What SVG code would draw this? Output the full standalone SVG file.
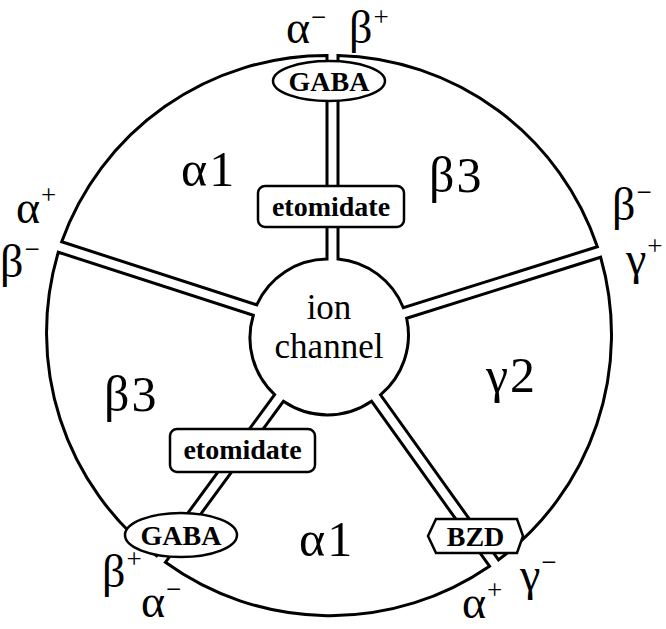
<svg xmlns="http://www.w3.org/2000/svg" width="666" height="629" viewBox="0 0 666 629">
<style>
.sec{fill:#fff;stroke:#000;stroke-width:3;stroke-linejoin:miter}
.big{font-family:"Liberation Serif","Times New Roman",serif;font-size:46px;fill:#000;letter-spacing:1px}
.sub{font-size:50px;letter-spacing:2px}
.sup{font-size:27px}
.ion{font-family:"Liberation Serif","Times New Roman",serif;font-size:35px;fill:#000;text-anchor:middle}
.box{fill:#fff;stroke:#000;stroke-width:2.5}
.lbl{font-family:"Liberation Serif","Times New Roman",serif;font-weight:bold;font-size:28px;fill:#000;text-anchor:middle}
</style>
<rect width="666" height="629" fill="#fff"/>
<g id="sectors">
<g id="sector-beta3-top"><path class="sec" d="M338,259 L338,55.5 A281,281 0 0 1 597.35,246.75 L403.35,307.75 A78,78 0 0 0 338,259 Z"/></g>
<g id="sector-gamma2"><path class="sec" d="M406.65,318.25 L600.65,257.25 A281,281 0 0 1 498.5,559.8 L380.5,394.8 A78,78 0 0 0 406.65,318.25 Z"/></g>
<g id="sector-alpha1-bottom"><path class="sec" d="M371.5,401.2 L489.5,566.2 A281,281 0 0 1 165.4,562.3 L283.4,401.3 A78,78 0 0 0 371.5,401.2 Z"/></g>
<g id="sector-beta3-left"><path class="sec" d="M274.6,394.7 L156.6,555.7 A281,281 0 0 1 58.3,252.2 L253.3,315.2 A78,78 0 0 0 274.6,394.7 Z"/></g>
<g id="sector-alpha1-top"><path class="sec" d="M256.7,304.8 L61.7,241.8 A281,281 0 0 1 327,55.5 L327,259 A78,78 0 0 0 256.7,304.8 Z"/></g>
</g>
<g id="ion-channel">
<text class="ion" x="329" y="319">ion</text>
<text class="ion" x="329" y="358">channel</text>
</g>
<g id="subunit-labels">
<text class="big sub" x="181" y="186">α1</text>
<text class="big sub" x="429" y="192">β3</text>
<text class="big sub" x="104" y="411">β3</text>
<text class="big sub" x="486" y="392">γ2</text>
<text class="big sub" x="299" y="556">α1</text>
</g>
<g id="interface-labels">
<text class="big" x="286" y="43">α<tspan class="sup" dy="-17">−</tspan></text>
<text class="big" x="349" y="43">β<tspan class="sup" dy="-17">+</tspan></text>
<text class="big" x="16" y="223">α<tspan class="sup" dy="-19">+</tspan></text>
<text class="big" x="0" y="277">β<tspan class="sup" dy="-19">−</tspan></text>
<text class="big" x="612" y="220">β<tspan class="sup" dy="-19">−</tspan></text>
<text class="big" x="626" y="274">γ<tspan class="sup" dy="-19">+</tspan></text>
<text class="big" x="102" y="587">β<tspan class="sup" dy="-19">+</tspan></text>
<text class="big" x="141" y="617">α<tspan class="sup" dy="-19">−</tspan></text>
<text class="big" x="462" y="618">α<tspan class="sup" dy="-19">+</tspan></text>
<text class="big" x="520" y="590">γ<tspan class="sup" dy="-19">−</tspan></text>
</g>
<g id="gaba-top">
<ellipse class="box" cx="329" cy="81" rx="56" ry="20"/>
<text class="lbl" x="329" y="91">GABA</text>
</g>
<g id="etomidate-top">
<rect class="box" x="258" y="186" width="146" height="41" rx="7"/>
<text class="lbl" x="331" y="216">etomidate</text>
</g>
<g id="etomidate-bottom">
<rect class="box" x="170" y="429" width="145" height="43" rx="7"/>
<text class="lbl" x="242.5" y="459">etomidate</text>
</g>
<g id="gaba-bottom">
<ellipse class="box" cx="181" cy="535" rx="56" ry="22"/>
<text class="lbl" x="181" y="545">GABA</text>
</g>
<g id="bzd">
<polygon class="box" points="428,536 436,519 517,519 523,536 517,553 436,553"/>
<text class="lbl" x="475.5" y="546">BZD</text>
</g>
</svg>
